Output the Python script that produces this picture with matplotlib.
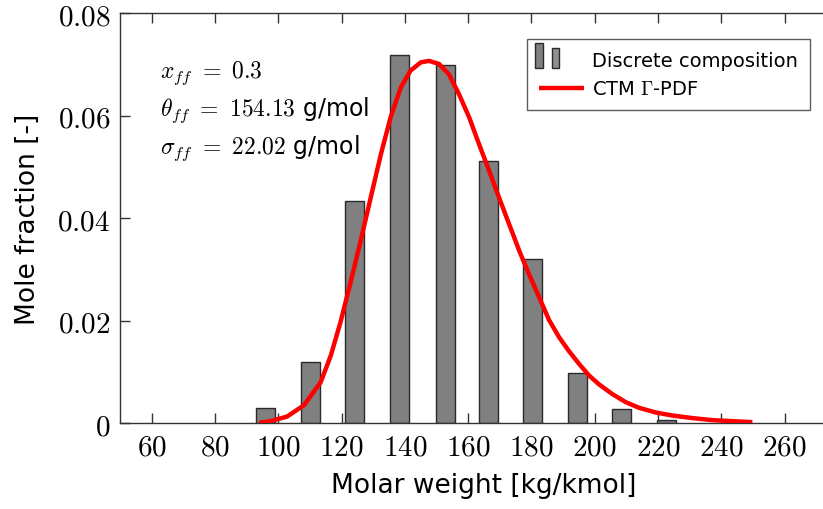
import matplotlib
matplotlib.use("Agg")
import matplotlib.pyplot as plt
from matplotlib.patches import Rectangle
from matplotlib.legend_handler import HandlerBase

# ---- data ----
bar_mw = [96.1, 110.3, 124.1, 138.2, 152.8, 166.5, 180.4, 194.4, 208.5, 222.6]
bar_frac = [0.0029, 0.0119, 0.0434, 0.0718, 0.0698, 0.0512, 0.0321, 0.0098, 0.0028, 0.0006]

pdf_mw = [93.9, 97.6, 102.8, 108.1, 113.4, 116.6, 119.7, 122.9, 126.0, 129.2, 132.4,
          135.5, 138.7, 141.8, 145.0, 147.6, 150.8, 153.9, 157.1, 160.3, 163.4,
          166.6, 169.7, 172.9, 176.1, 179.2, 182.4, 185.5, 188.7, 191.8, 195.0,
          198.2, 201.3, 205.5, 209.8, 214.0, 219.2, 224.5, 230.8, 237.1, 243.4, 249.8]
pdf_frac = [0.0001, 0.0004, 0.0013, 0.0035, 0.0080, 0.0132, 0.0198, 0.0276, 0.0355, 0.0440, 0.0524,
            0.0597, 0.0655, 0.0688, 0.0704, 0.0707, 0.0701, 0.0681, 0.0642, 0.0597, 0.0545,
            0.0493, 0.0441, 0.0389, 0.0337, 0.0291, 0.0246, 0.0202, 0.0168, 0.0141, 0.0116,
            0.0093, 0.0076, 0.0057, 0.0041, 0.0030, 0.0021, 0.0015, 0.0010, 0.0006, 0.0004, 0.0002]

xticks = [60, 80, 100, 120, 140, 160, 180, 200, 220, 240, 260]
yticks = [0, 0.02, 0.04, 0.06, 0.08]
ytick_labels = ["$0$", "$0.02$", "$0.04$", "$0.06$", "$0.08$"]

plt.rcParams['mathtext.fontset'] = 'cm'
plt.rcParams['font.family'] = ['DejaVu Sans']

fig = plt.figure(figsize=(8.23, 5.10), dpi=100)
ax = fig.add_axes([120/823, 1-424.2/510, 728/823, (424.2-14.2)/510])

bars = ax.bar(bar_mw, bar_frac, width=6.0, color='#808080', edgecolor='#2a2a2a',
              linewidth=1.0, zorder=2, label='Discrete composition')
line, = ax.plot(pdf_mw, pdf_frac, color='#ff0000', linewidth=3.2, zorder=3,
                solid_capstyle='butt', solid_joinstyle='round', label=r'CTM $\Gamma$-PDF')

ax.set_xlim(50, 280)
ax.set_ylim(0, 0.08)
ax.set_xticks(xticks)
ax.set_xticklabels([f"${t}$" for t in xticks])
ax.set_yticks(yticks)
ax.set_yticklabels(ytick_labels)
ax.tick_params(direction='in', length=7, width=1.0, labelsize=21, top=True,
               right=False, color='#333333', pad=7)
for s in ax.spines.values():
    s.set_linewidth(1.0)
    s.set_color('#333333')
ax.spines['right'].set_visible(False)

ax.set_xlabel('Molar weight [kg/kmol]', fontsize=19, labelpad=8)
ax.set_ylabel('Mole fraction [-]', fontsize=19, labelpad=12)

ax.text(160/823, 1-73/510, r'$x_{ff}\ =\ 0.3$', transform=fig.transFigure,
        fontsize=17, va='center', ha='left')
ax.text(160/823, 1-110/510, r'$\theta_{ff}\ =\ 154.13$ g/mol', transform=fig.transFigure,
        fontsize=17, va='center', ha='left')
ax.text(160/823, 1-148/510, r'$\sigma_{ff}\ =\ 22.02$ g/mol', transform=fig.transFigure,
        fontsize=17, va='center', ha='left')


class TwoBarHandler(HandlerBase):
    def create_artists(self, legend, orig_handle, xdescent, ydescent, width, height,
                       fontsize, trans):
        y0 = -ydescent - height * 0.2
        r1 = Rectangle((-0.09 * width, y0), 0.18 * width, height * 1.9,
                       facecolor='#808080', edgecolor='#2a2a2a', linewidth=1.0, transform=trans)
        r2 = Rectangle((0.29 * width, y0), 0.16 * width, height * 1.47,
                       facecolor='#909090', edgecolor='#2a2a2a', linewidth=1.0, transform=trans)
        return [r1, r2]


leg = ax.legend([bars, line], ['Discrete composition', r'CTM $\Gamma$-PDF'],
                handler_map={type(bars): TwoBarHandler()},
                loc='upper right', bbox_to_anchor=(810/823, 1-40/510),
                bbox_transform=fig.transFigure, fontsize=14, frameon=True,
                fancybox=False, edgecolor='#333333', borderaxespad=0,
                handlelength=2.3, handletextpad=0.45, borderpad=0.6, labelspacing=0.5)
leg.get_frame().set_linewidth(1.0)

fig.savefig('out.png', dpi=100)
